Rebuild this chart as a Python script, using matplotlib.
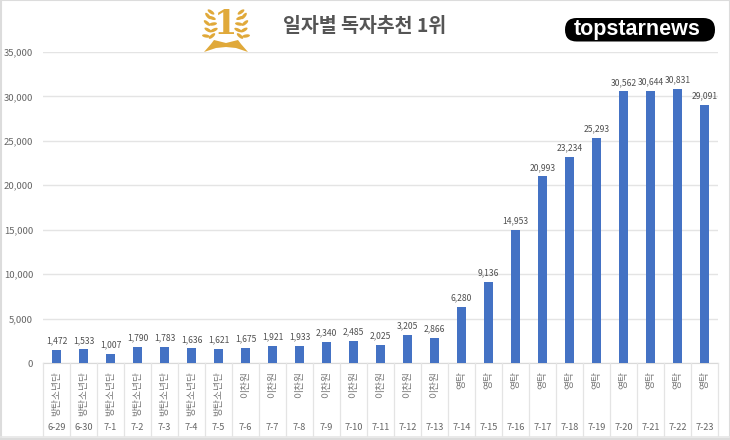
import matplotlib
matplotlib.use("Agg")
import matplotlib.pyplot as plt
from matplotlib.patches import Ellipse, FancyBboxPatch, Polygon, Rectangle

plt.rcParams["font.family"] = ["Noto Sans CJK KR", "DejaVu Sans"]

dates = ["6-29", "6-30", "7-1", "7-2", "7-3", "7-4", "7-5", "7-6", "7-7", "7-8", "7-9", "7-10", "7-11",
         "7-12", "7-13", "7-14", "7-15", "7-16", "7-17", "7-18", "7-19", "7-20", "7-21", "7-22", "7-23"]
names = ["방탄소년단"] * 7 + ["이찬원"] * 8 + ["영탁"] * 10
votes = [1472, 1533, 1007, 1790, 1783, 1636, 1621, 1675, 1921, 1933, 2340, 2485, 2025,
         3205, 2866, 6280, 9136, 14953, 20993, 23234, 25293, 30562, 30644, 30831, 29091]
yticks = [0, 5000, 10000, 15000, 20000, 25000, 30000, 35000]

W, H = 730, 440
LEFT, RIGHT = 43, 718
GRID = "#e4e4e4"
TEXT = "#666666"
GOLD = "#e0a93a"

fig = plt.figure(figsize=(W / 100, H / 100), dpi=100, facecolor="white")

# main chart, placed in pixel terms
ax = fig.add_axes([LEFT / W, (H - 363) / H, (RIGHT - LEFT) / W, 311 / H])
x = list(range(len(votes)))
ax.bar(x, votes, width=0.32, color="#4472c4", zorder=3)
ax.set_xlim(-0.5, len(votes) - 0.5)
ax.set_ylim(0, 35000)
ax.set_yticks(yticks)
ax.set_yticklabels([f"{v:,}" for v in yticks], fontsize=6.9, color=TEXT)
ax.set_xticks([])
ax.tick_params(axis="y", length=0, pad=7)
ax.grid(axis="y", color=GRID, linewidth=1, zorder=0)
for side in ["top", "right", "left"]:
    ax.spines[side].set_visible(False)
ax.spines["bottom"].set_color("#d9d9d9")

for i, v in enumerate(votes):
    ax.annotate(f"{v:,}", (i, v), xytext=(0, 3.2), textcoords="offset points",
                ha="center", va="bottom", fontsize=6.2, color="#505050", zorder=4)

# overlay in image pixels for category table, frame and header art
ov = fig.add_axes([0, 0, 1, 1], zorder=5)
ov.set_xlim(0, W)
ov.set_ylim(H, 0)
ov.axis("off")
ov.patch.set_alpha(0)

step = (RIGHT - LEFT) / len(votes)
for i in range(len(votes) + 1):
    px = LEFT + i * step
    ov.plot([px, px], [363, 436], color=GRID, linewidth=0.9)
for i in range(len(votes)):
    px = LEFT + (i + 0.5) * step
    ov.text(px, 371, names[i], rotation=90, ha="center", va="top", fontsize=7, color="#777777")
    ov.text(px, 428, dates[i], ha="center", va="center", fontsize=6.6, color=TEXT)

# image frame
ov.add_patch(Rectangle((0.5, 0.5), W - 1, H - 1, fill=False, edgecolor="#dcdcdc", linewidth=1.5))
ov.plot([0, W], [437, 437], color="#e6e6e6", linewidth=1.2)

# title
ov.text(365, 26, "일자별 독자추천 1위", ha="center", va="center", fontsize=14,
        fontweight="bold", color="#555555")

# gold medal
ov.text(226, 24.5, "1", ha="center", va="center", fontsize=24, fontweight="bold",
        color=GOLD, family="DejaVu Serif")
leaves = [(12, 12, 35), (11, 18, 20), (15, 16, 50), (10, 24, -10), (16, 23, 40),
          (9, 30, -25), (15, 30, 30), (11, 36, -40), (17, 36, 10)]
for dx, dy, ang in leaves:
    ov.add_patch(Ellipse((226 - dx - 3, dy), 8, 3.2, angle=ang, color=GOLD, lw=0))
    ov.add_patch(Ellipse((226 + dx + 3, dy), 8, 3.2, angle=-ang, color=GOLD, lw=0))
ov.add_patch(Polygon([[214, 40], [226, 43], [238, 40], [241, 44], [248, 52], [236, 48],
                      [226, 47], [216, 48], [204, 52], [211, 44]],
                     closed=True, color=GOLD, lw=0))

# logo
ov.add_patch(FancyBboxPatch((565, 18), 150, 23.5, boxstyle="round,pad=0,rounding_size=11.7",
                            facecolor="black", edgecolor="none"))
ov.text(637.5, 29, "topstarnews", ha="center", va="center", fontsize=15.5, fontweight="bold",
        color="white", family="Liberation Sans")

fig.savefig("out.png", dpi=100)
